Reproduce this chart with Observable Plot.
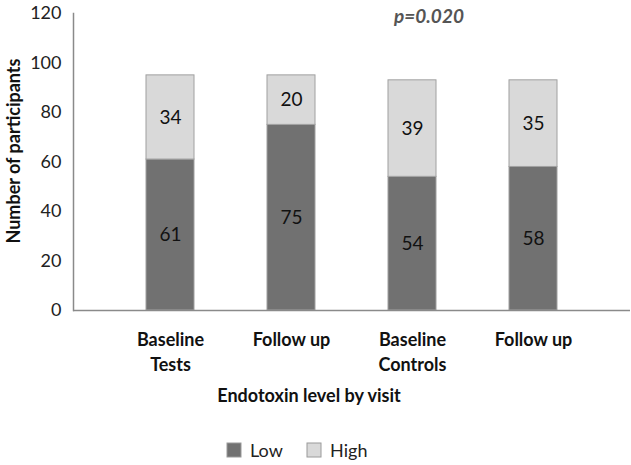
<!DOCTYPE html>
<html><head><meta charset="utf-8">
<script src="https://cdn.jsdelivr.net/npm/d3@7"></script>
<script src="https://cdn.jsdelivr.net/npm/@observablehq/plot@0.6"></script>
<style>
body{margin:0;background:#fff;font-family:Lato,"Open Sans",sans-serif;overflow:hidden;}
#wrap{width:631px;}
#legend{position:relative;width:631px;height:34px;}
#legend > *{position:absolute;left:227px;top:3px;}
#legend svg rect{stroke:#9a9a9a;stroke-width:1px;}
#legend span{margin-right:1.35em !important;}
</style></head><body><div id="wrap"><div id="chart"></div><div id="legend"></div></div>
<script>
const categories = ["Baseline Tests", "Follow up Tests", "Baseline Controls", "Follow up Controls"];
const tickLabels = ["Baseline\nTests", "Follow up", "Baseline\nControls", "Follow up"];
const levels = ["Low", "High"];
const low = [61, 75, 54, 58];
const high = [34, 20, 39, 35];
const yTicks = [0, 20, 40, 60, 80, 100, 120];
const pText = "p=0.020";
const colors = ["#717171", "#d9d9d9"];

const data = [];
categories.forEach((c, i) => {
  data.push({cat: c, level: "Low", value: low[i]});
  data.push({cat: c, level: "High", value: high[i]});
});

const chart = Plot.plot({
  width: 631,
  height: 430,
  marginLeft: 73,
  marginRight: 1,
  marginTop: 13,
  marginBottom: 120,
  style: {fontFamily: "Lato, 'Open Sans', sans-serif", fontSize: "18px", color: "#222"},
  x: {domain: categories, padding: 0.6, label: null},
  y: {domain: [0, 120], label: null},
  color: {domain: levels, range: colors},
  marks: [
    Plot.frame({anchor: "left", stroke: "#8a8a8a", strokeWidth: 1.5}),
    Plot.axisY({ticks: yTicks, tickSize: 0, tickPadding: 12, fontSize: 18, fill: "#222", label: null}),
    Plot.axisX({tickSize: 0, tickPadding: 18, fontSize: 18, fontWeight: "bold", fill: "#111", lineHeight: 1.38,
      tickFormat: (d) => tickLabels[categories.indexOf(d)], label: null}),
    Plot.barY(data, {x: "cat", y: "value", fill: "level", stroke: "#a0a0a0", strokeWidth: 1, order: levels}),
    Plot.text(data, Plot.stackY({x: "cat", y: "value", z: "level", text: "value", order: levels, fontSize: 19, fill: "#111"})),
    Plot.ruleY([0], {stroke: "#8a8a8a", strokeWidth: 1.5}),
    Plot.text(["Endotoxin level by visit"], {frameAnchor: "bottom", dx: -43, dy: 91, fontSize: 18, fontWeight: "bold", fill: "#111"}),
    Plot.text(["Number of participants"], {frameAnchor: "left", textAnchor: "middle", rotate: -90, dx: -59, dy: -11, fontSize: 18, fontWeight: "bold", fill: "#111"}),
    Plot.text([pText], {frameAnchor: "top", dx: 77, dy: -4, fontSize: 19, fontWeight: "bold", fontStyle: "italic", fill: "#555"})
  ]
});
document.getElementById("chart").appendChild(chart);

const leg = Plot.legend({color: {domain: levels, range: colors}, swatchSize: 14, swatchWidth: 14, swatchHeight: 14,
  style: {fontFamily: "Lato, 'Open Sans', sans-serif", fontSize: "18px", color: "#222"}});
document.getElementById("legend").appendChild(leg);
</script></body></html>
